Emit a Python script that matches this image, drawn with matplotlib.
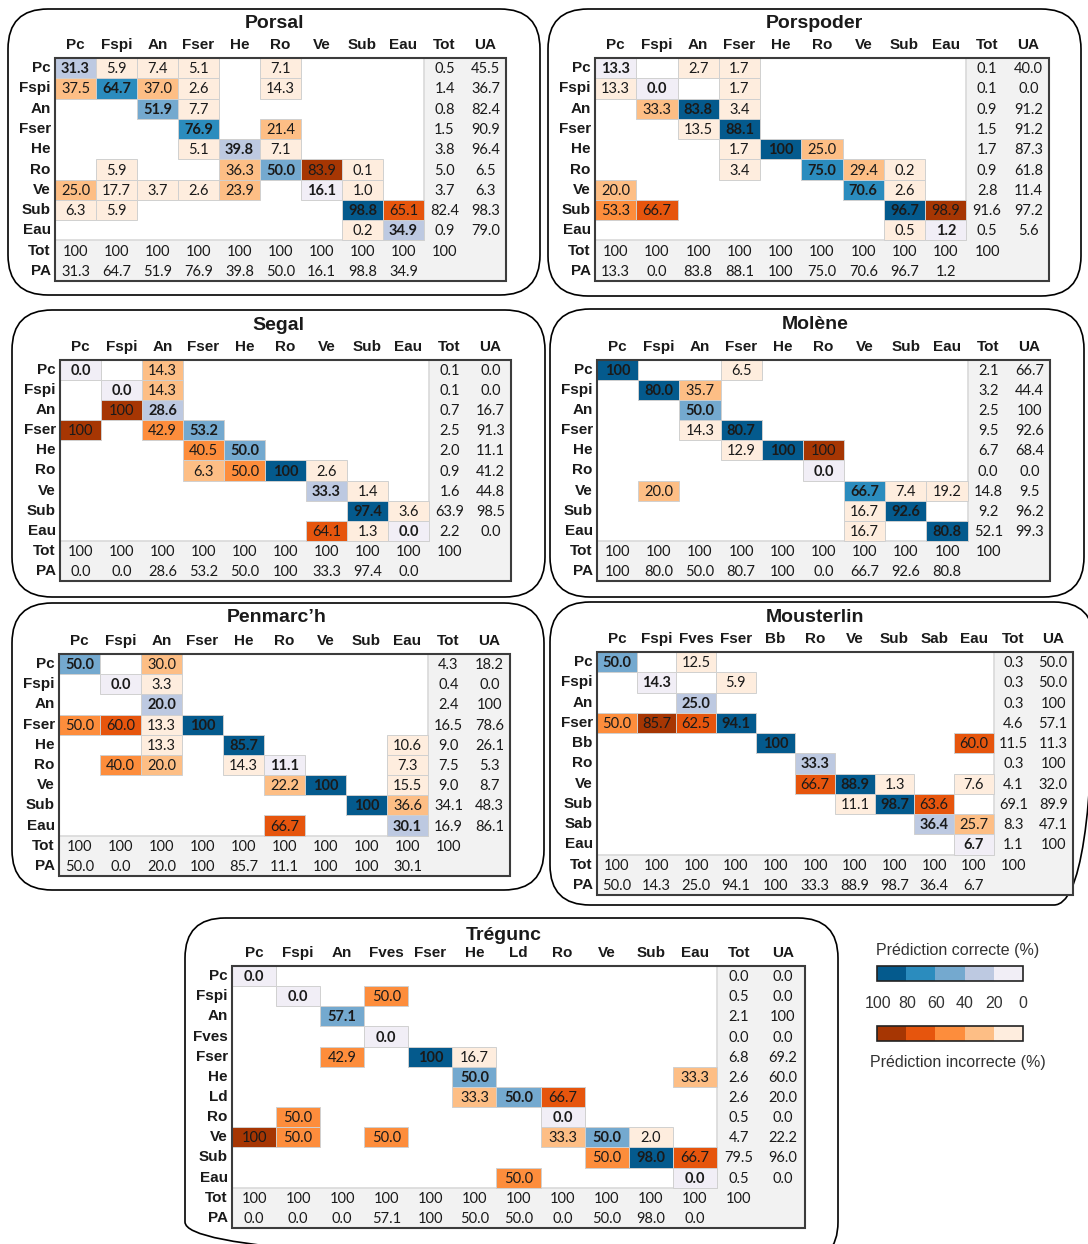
import matplotlib
matplotlib.use('Agg')
import matplotlib.pyplot as plt
from matplotlib.patches import Rectangle, FancyBboxPatch

W, H = 1088, 1244

# 5-class palettes: correct (diagonal) and incorrect (off-diagonal) predictions
blues = ['#f1eef6', '#bdc9e1', '#74a9cf', '#2b8cbe', '#045a8d']
oranges = ['#feedde', '#fdbe85', '#fd8d3c', '#e6550d', '#a63603']
legend_ticks = [100, 80, 60, 40, 20, 0]

_ = None

# ---------------- Porsal ----------------
porsal_cols = ['Pc', 'Fspi', 'An', 'Fser', 'He', 'Ro', 'Ve', 'Sub', 'Eau']
porsal_rows = ['Pc', 'Fspi', 'An', 'Fser', 'He', 'Ro', 'Ve', 'Sub', 'Eau']
porsal = [
    [31.3, 5.9, 7.4, 5.1, _, 7.1, _, _, _],
    [37.5, 64.7, 37.0, 2.6, _, 14.3, _, _, _],
    [_, _, 51.9, 7.7, _, _, _, _, _],
    [_, _, _, 76.9, _, 21.4, _, _, _],
    [_, _, _, 5.1, 39.8, 7.1, _, _, _],
    [_, 5.9, _, _, 36.3, 50.0, 83.9, 0.1, _],
    [25.0, 17.7, 3.7, 2.6, 23.9, _, 16.1, 1.0, _],
    [6.3, 5.9, _, _, _, _, _, 98.8, 65.1],
    [_, _, _, _, _, _, _, 0.2, 34.9],
]
porsal_tot = [0.5, 1.4, 0.8, 1.5, 3.8, 5.0, 3.7, 82.4, 0.9]
porsal_ua = [45.5, 36.7, 82.4, 90.9, 96.4, 6.5, 6.3, 98.3, 79.0]
porsal_coltot = [100, 100, 100, 100, 100, 100, 100, 100, 100, 100]
porsal_pa = [31.3, 64.7, 51.9, 76.9, 39.8, 50.0, 16.1, 98.8, 34.9]

# ---------------- Porspoder ----------------
porspoder_cols = ['Pc', 'Fspi', 'An', 'Fser', 'He', 'Ro', 'Ve', 'Sub', 'Eau']
porspoder_rows = ['Pc', 'Fspi', 'An', 'Fser', 'He', 'Ro', 'Ve', 'Sub', 'Eau']
porspoder = [
    [13.3, _, 2.7, 1.7, _, _, _, _, _],
    [13.3, 0.0, _, 1.7, _, _, _, _, _],
    [_, 33.3, 83.8, 3.4, _, _, _, _, _],
    [_, _, 13.5, 88.1, _, _, _, _, _],
    [_, _, _, 1.7, 100, 25.0, _, _, _],
    [_, _, _, 3.4, _, 75.0, 29.4, 0.2, _],
    [20.0, _, _, _, _, _, 70.6, 2.6, _],
    [53.3, 66.7, _, _, _, _, _, 96.7, 98.9],
    [_, _, _, _, _, _, _, 0.5, 1.2],
]
porspoder_tot = [0.1, 0.1, 0.9, 1.5, 1.7, 0.9, 2.8, 91.6, 0.5]
porspoder_ua = [40.0, 0.0, 91.2, 91.2, 87.3, 61.8, 11.4, 97.2, 5.6]
porspoder_coltot = [100, 100, 100, 100, 100, 100, 100, 100, 100, 100]
porspoder_pa = [13.3, 0.0, 83.8, 88.1, 100, 75.0, 70.6, 96.7, 1.2]

# ---------------- Segal ----------------
segal_cols = ['Pc', 'Fspi', 'An', 'Fser', 'He', 'Ro', 'Ve', 'Sub', 'Eau']
segal_rows = ['Pc', 'Fspi', 'An', 'Fser', 'He', 'Ro', 'Ve', 'Sub', 'Eau']
segal = [
    [0.0, _, 14.3, _, _, _, _, _, _],
    [_, 0.0, 14.3, _, _, _, _, _, _],
    [_, 100, 28.6, _, _, _, _, _, _],
    [100, _, 42.9, 53.2, _, _, _, _, _],
    [_, _, _, 40.5, 50.0, _, _, _, _],
    [_, _, _, 6.3, 50.0, 100, 2.6, _, _],
    [_, _, _, _, _, _, 33.3, 1.4, _],
    [_, _, _, _, _, _, _, 97.4, 3.6],
    [_, _, _, _, _, _, 64.1, 1.3, 0.0],
]
segal_tot = [0.1, 0.1, 0.7, 2.5, 2.0, 0.9, 1.6, 63.9, 2.2]
segal_ua = [0.0, 0.0, 16.7, 91.3, 11.1, 41.2, 44.8, 98.5, 0.0]
segal_coltot = [100, 100, 100, 100, 100, 100, 100, 100, 100, 100]
segal_pa = [0.0, 0.0, 28.6, 53.2, 50.0, 100, 33.3, 97.4, 0.0]
# cells whose shade class differs from their rounded value
segal_shade = {(0, 2): 1, (1, 2): 1, (5, 3): 1}

# ---------------- Molène ----------------
molene_cols = ['Pc', 'Fspi', 'An', 'Fser', 'He', 'Ro', 'Ve', 'Sub', 'Eau']
molene_rows = ['Pc', 'Fspi', 'An', 'Fser', 'He', 'Ro', 'Ve', 'Sub', 'Eau']
molene = [
    [100, _, _, 6.5, _, _, _, _, _],
    [_, 80.0, 35.7, _, _, _, _, _, _],
    [_, _, 50.0, _, _, _, _, _, _],
    [_, _, 14.3, 80.7, _, _, _, _, _],
    [_, _, _, 12.9, 100, 100, _, _, _],
    [_, _, _, _, _, 0.0, _, _, _],
    [_, 20.0, _, _, _, _, 66.7, 7.4, 19.2],
    [_, _, _, _, _, _, 16.7, 92.6, _],
    [_, _, _, _, _, _, 16.7, _, 80.8],
]
molene_tot = [2.1, 3.2, 2.5, 9.5, 6.7, 0.0, 14.8, 9.2, 52.1]
molene_ua = [66.7, 44.4, 100, 92.6, 68.4, 0.0, 9.5, 96.2, 99.3]
molene_coltot = [100, 100, 100, 100, 100, 100, 100, 100, 100, 100]
molene_pa = [100, 80.0, 50.0, 80.7, 100, 0.0, 66.7, 92.6, 80.8]

# ---------------- Penmarc'h ----------------
penmarch_cols = ['Pc', 'Fspi', 'An', 'Fser', 'He', 'Ro', 'Ve', 'Sub', 'Eau']
penmarch_rows = ['Pc', 'Fspi', 'An', 'Fser', 'He', 'Ro', 'Ve', 'Sub', 'Eau']
penmarch = [
    [50.0, _, 30.0, _, _, _, _, _, _],
    [_, 0.0, 3.3, _, _, _, _, _, _],
    [_, _, 20.0, _, _, _, _, _, _],
    [50.0, 60.0, 13.3, 100, _, _, _, _, _],
    [_, _, 13.3, _, 85.7, _, _, _, 10.6],
    [_, 40.0, 20.0, _, 14.3, 11.1, _, _, 7.3],
    [_, _, _, _, _, 22.2, 100, _, 15.5],
    [_, _, _, _, _, _, _, 100, 36.6],
    [_, _, _, _, _, 66.7, _, _, 30.1],
]
penmarch_tot = [4.3, 0.4, 2.4, 16.5, 9.0, 7.5, 9.0, 34.1, 16.9]
penmarch_ua = [18.2, 0.0, 100, 78.6, 26.1, 5.3, 8.7, 48.3, 86.1]
penmarch_coltot = [100, 100, 100, 100, 100, 100, 100, 100, 100, 100]
penmarch_pa = [50.0, 0.0, 20.0, 100, 85.7, 11.1, 100, 100, 30.1]

# ---------------- Mousterlin ----------------
mousterlin_cols = ['Pc', 'Fspi', 'Fves', 'Fser', 'Bb', 'Ro', 'Ve', 'Sub', 'Sab', 'Eau']
mousterlin_rows = ['Pc', 'Fspi', 'An', 'Fser', 'Bb', 'Ro', 'Ve', 'Sub', 'Sab', 'Eau']
mousterlin = [
    [50.0, _, 12.5, _, _, _, _, _, _, _],
    [_, 14.3, _, 5.9, _, _, _, _, _, _],
    [_, _, 25.0, _, _, _, _, _, _, _],
    [50.0, 85.7, 62.5, 94.1, _, _, _, _, _, _],
    [_, _, _, _, 100, _, _, _, _, 60.0],
    [_, _, _, _, _, 33.3, _, _, _, _],
    [_, _, _, _, _, 66.7, 88.9, 1.3, _, 7.6],
    [_, _, _, _, _, _, 11.1, 98.7, 63.6, _],
    [_, _, _, _, _, _, _, _, 36.4, 25.7],
    [_, _, _, _, _, _, _, _, _, 6.7],
]
mousterlin_tot = [0.3, 0.3, 0.3, 4.6, 11.5, 0.3, 4.1, 69.1, 8.3, 1.1]
mousterlin_ua = [50.0, 50.0, 100, 57.1, 11.3, 100, 32.0, 89.9, 47.1, 100]
mousterlin_coltot = [100, 100, 100, 100, 100, 100, 100, 100, 100, 100, 100]
mousterlin_pa = [50.0, 14.3, 25.0, 94.1, 100, 33.3, 88.9, 98.7, 36.4, 6.7]

# ---------------- Trégunc ----------------
tregunc_cols = ['Pc', 'Fspi', 'An', 'Fves', 'Fser', 'He', 'Ld', 'Ro', 'Ve', 'Sub', 'Eau']
tregunc_rows = ['Pc', 'Fspi', 'An', 'Fves', 'Fser', 'He', 'Ld', 'Ro', 'Ve', 'Sub', 'Eau']
tregunc = [
    [0.0, _, _, _, _, _, _, _, _, _, _],
    [_, 0.0, _, 50.0, _, _, _, _, _, _, _],
    [_, _, 57.1, _, _, _, _, _, _, _, _],
    [_, _, _, 0.0, _, _, _, _, _, _, _],
    [_, _, 42.9, _, 100, 16.7, _, _, _, _, _],
    [_, _, _, _, _, 50.0, _, _, _, _, 33.3],
    [_, _, _, _, _, 33.3, 50.0, 66.7, _, _, _],
    [_, 50.0, _, _, _, _, _, 0.0, _, _, _],
    [100, 50.0, _, 50.0, _, _, _, 33.3, 50.0, 2.0, _],
    [_, _, _, _, _, _, _, _, 50.0, 98.0, 66.7],
    [_, _, _, _, _, _, 50.0, _, _, _, 0.0],
]
tregunc_tot = [0.0, 0.5, 2.1, 0.0, 6.8, 2.6, 2.6, 0.5, 4.7, 79.5, 0.5]
tregunc_ua = [0.0, 0.0, 100, 0.0, 69.2, 60.0, 20.0, 0.0, 22.2, 96.0, 0.0]
tregunc_coltot = [100, 100, 100, 100, 100, 100, 100, 100, 100, 100, 100, 100]
tregunc_pa = [0.0, 0.0, 0.0, 57.1, 100, 50.0, 50.0, 0.0, 50.0, 98.0, 0.0]

HEAD = 'Liberation Sans'
NUM = 'Lato'
INK = '#1a1a1a'
NUM_SIZE = 10.5
HEAD_SIZE = 11

fig = plt.figure(figsize=(W / 100, H / 100), dpi=100)

# full-page axes in pixel units for the rounded frames
bg = fig.add_axes([0, 0, 1, 1])
bg.set_xlim(0, W)
bg.set_ylim(H, 0)
bg.axis('off')


def px_axes(left, top, right, bottom):
    return fig.add_axes([left / W, 1 - bottom / H, (right - left) / W, (bottom - top) / H])


def fmt(v):
    return '100' if v == 100 else '%.1f' % v


def shade_index(v):
    return min(int(v // 20), 4)


def draw_panel(title, title_xy, box, table, cols, rows, mat, tot, ua, coltot, pa, shade=None):
    x0, y0, x1, y1 = box
    bg.add_patch(FancyBboxPatch((x0, y0), x1 - x0, y1 - y0,
                                boxstyle='round,pad=0,rounding_size=40',
                                fc='none', ec='black', lw=1.2))
    fig.text(title_xy[0] / W, 1 - title_xy[1] / H, title, ha='center', va='center',
             fontsize=14, fontweight='bold', family=HEAD, color=INK)

    ax = px_axes(*table)
    nc, nr = len(cols), len(rows)
    ax.set_xlim(0, nc + 2)
    ax.set_ylim(nr + 2, 0)
    ax.axis('off')

    # grey margins for totals / accuracies
    ax.add_patch(Rectangle((nc, 0), 2, nr + 2, fc='#f2f2f2', ec='none', zorder=0))
    ax.add_patch(Rectangle((0, nr), nc, 2, fc='#f2f2f2', ec='none', zorder=0))
    ax.plot([nc, nc], [0, nr], color='#d9d9d9', lw=1.2, zorder=1)
    ax.plot([0, nc], [nr, nr], color='#d9d9d9', lw=1.2, zorder=1)

    for i, row in enumerate(mat):
        for j, v in enumerate(row):
            if v is None:
                continue
            k = shade_index(v)
            if shade and (i, j) in shade:
                k = shade[(i, j)]
            diag = i == j
            ax.add_patch(Rectangle((j, i), 1, 1, fc=blues[k] if diag else oranges[k],
                                   ec='#d0d0d0', lw=0.7, zorder=2))
            ax.text(j + 0.5, i + 0.55, fmt(v), ha='center', va='center', fontsize=NUM_SIZE,
                    family=NUM, fontweight='bold' if diag else 'normal', color=INK, zorder=3)

    for i in range(nr):
        ax.text(nc + 0.5, i + 0.55, fmt(tot[i]), ha='center', va='center',
                fontsize=NUM_SIZE, family=NUM, color=INK, zorder=3)
        ax.text(nc + 1.5, i + 0.55, fmt(ua[i]), ha='center', va='center',
                fontsize=NUM_SIZE, family=NUM, color=INK, zorder=3)
    for j, v in enumerate(coltot):
        ax.text(j + 0.5, nr + 0.55, fmt(v), ha='center', va='center',
                fontsize=NUM_SIZE, family=NUM, color=INK, zorder=3)
    for j, v in enumerate(pa):
        ax.text(j + 0.5, nr + 1.55, fmt(v), ha='center', va='center',
                fontsize=NUM_SIZE, family=NUM, color=INK, zorder=3)

    ax.add_patch(Rectangle((0, 0), nc + 2, nr + 2, fill=False, ec='#3c3c3c', lw=1.5,
                           zorder=4, clip_on=False))

    for j, c in enumerate(cols + ['Tot', 'UA']):
        ax.annotate(c, (j + 0.5, 0), xytext=(0, 9.5), textcoords='offset points',
                    ha='center', va='center', fontsize=HEAD_SIZE, fontweight='bold',
                    family=HEAD, color=INK, annotation_clip=False)
    for i, r in enumerate(rows + ['Tot', 'PA']):
        ax.annotate(r, (0, i + 0.5), xytext=(-3, 0), textcoords='offset points',
                    ha='right', va='center', fontsize=HEAD_SIZE, fontweight='bold',
                    family=HEAD, color=INK, annotation_clip=False)


draw_panel('Porsal', (274, 24), (8, 9, 540, 295), (55, 58, 506, 281),
           porsal_cols, porsal_rows, porsal, porsal_tot, porsal_ua, porsal_coltot, porsal_pa)
draw_panel('Porspoder', (814, 24), (548, 9, 1081, 296), (595, 58, 1049, 281),
           porspoder_cols, porspoder_rows, porspoder, porspoder_tot, porspoder_ua,
           porspoder_coltot, porspoder_pa)
draw_panel('Segal', (278, 325), (12, 310, 545, 597), (60, 360, 511, 581),
           segal_cols, segal_rows, segal, segal_tot, segal_ua, segal_coltot, segal_pa,
           shade=segal_shade)
draw_panel('Molène', (815, 324), (550, 309, 1084, 597), (597, 360, 1050, 581),
           molene_cols, molene_rows, molene, molene_tot, molene_ua, molene_coltot, molene_pa)
draw_panel("Penmarc’h", (277, 618), (12, 603, 544, 890), (59, 654, 510, 876),
           penmarch_cols, penmarch_rows, penmarch, penmarch_tot, penmarch_ua,
           penmarch_coltot, penmarch_pa)
draw_panel('Mousterlin', (815, 618), (550, 602, 1094, 905), (597, 652, 1073, 895),
           mousterlin_cols, mousterlin_rows, mousterlin, mousterlin_tot, mousterlin_ua,
           mousterlin_coltot, mousterlin_pa)
draw_panel('Trégunc', (504, 935), (185, 918, 838, 1262), (232, 966, 805, 1228),
           tregunc_cols, tregunc_rows, tregunc, tregunc_tot, tregunc_ua,
           tregunc_coltot, tregunc_pa)

# colour key
for pal, (top, bottom), label, ly in [(blues, (966, 981), 'Prédiction correcte (%)', 951),
                                      (oranges, (1026, 1041), 'Prédiction incorrecte (%)', 1063)]:
    kax = px_axes(877, top, 1023, bottom)
    kax.set_xlim(0, 5)
    kax.set_ylim(0, 1)
    kax.axis('off')
    for s, c in enumerate(reversed(pal)):
        kax.add_patch(Rectangle((s, 0), 1, 1, fc=c, ec='none'))
    kax.add_patch(Rectangle((0, 0), 5, 1, fill=False, ec='#222222', lw=1.2, clip_on=False))
    fig.text(958 / W, 1 - ly / H, label, ha='center', va='center', fontsize=11.5,
             family=HEAD, color='#333333')

for s, t in enumerate(legend_ticks):
    fig.text((878 + s * 29) / W, 1 - 1003 / H, str(t), ha='center', va='center',
             fontsize=11.5, family=HEAD, color='#333333')

fig.savefig('out.png', dpi=100)
